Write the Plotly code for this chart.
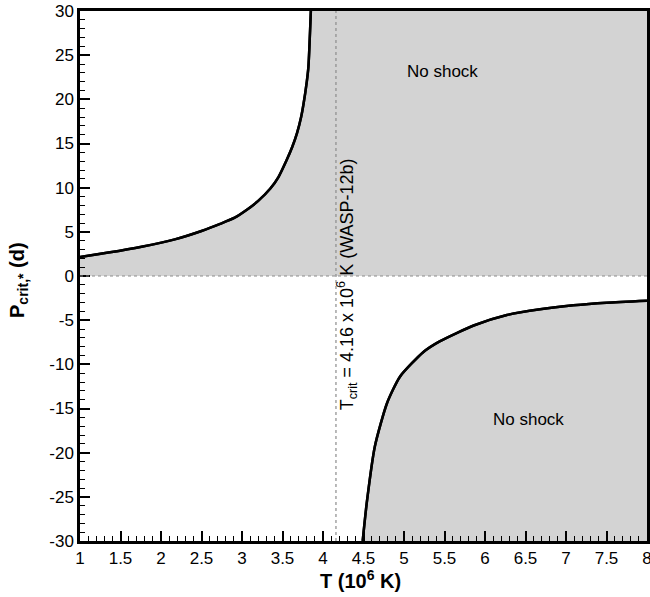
import plotly.graph_objects as go

# --- data ---
T_upper = [1.00, 1.35, 1.76, 2.17, 2.50, 2.73, 2.91, 3.06, 3.20, 3.35, 3.45, 3.55, 3.62, 3.68, 3.73, 3.76, 3.80, 3.82, 3.85]
P_upper = [2.15, 2.65, 3.32, 4.15, 5.10, 5.90, 6.60, 7.50, 8.50, 9.90, 11.2, 13.1, 14.6, 16.2, 18.0, 19.5, 22.0, 23.7, 30.0]

T_lower = [4.49, 4.54, 4.64, 4.79, 4.95, 5.24, 5.44, 5.86, 6.27, 6.68, 7.09, 7.50, 8.00]
P_lower = [-30.0, -25.7, -19.3, -14.4, -11.4, -8.6, -7.4, -5.6, -4.42, -3.77, -3.32, -3.02, -2.80]

T_CRIT = 4.16
X_RANGE = [1, 8]
Y_RANGE = [-30, 30]
x_ticks = [1, 1.5, 2, 2.5, 3, 3.5, 4, 4.5, 5, 5.5, 6, 6.5, 7, 7.5, 8]
x_tick_labels = ["1", "1.5", "2", "2.5", "3", "3.5", "4", "4.5", "5", "5.5", "6", "6.5", "7", "7.5", "8"]
y_ticks = [-30, -25, -20, -15, -10, -5, 0, 5, 10, 15, 20, 25, 30]
y_tick_labels = [str(v) for v in y_ticks]

FILL = "#d3d3d3"
FONT = "Liberation Sans, Arial, Helvetica, sans-serif"
CURVE = dict(color="black", width=2.5, shape="spline", smoothing=0.6)

fig = go.Figure()

# upper "no shock" region: curve, then the plot edges, filled between them
fig.add_trace(go.Scatter(x=T_upper, y=P_upper, mode="lines", line=CURVE,
                         hoverinfo="skip", showlegend=False))
fig.add_trace(go.Scatter(x=[X_RANGE[0], X_RANGE[1], X_RANGE[1]], y=[0, 0, Y_RANGE[1]],
                         mode="lines", line=dict(width=0, color="rgba(0,0,0,0)"),
                         fill="tonexty", fillcolor=FILL, hoverinfo="skip", showlegend=False))
# lower "no shock" region
fig.add_trace(go.Scatter(x=T_lower, y=P_lower, mode="lines", line=CURVE,
                         hoverinfo="skip", showlegend=False))
fig.add_trace(go.Scatter(x=[T_lower[0], X_RANGE[1]], y=[Y_RANGE[0], Y_RANGE[0]],
                         mode="lines", line=dict(width=0, color="rgba(0,0,0,0)"),
                         fill="tonexty", fillcolor=FILL, hoverinfo="skip", showlegend=False))

# boundary curves on top
fig.add_trace(go.Scatter(x=T_upper, y=P_upper, mode="lines", line=CURVE, showlegend=False))
fig.add_trace(go.Scatter(x=T_lower, y=P_lower, mode="lines", line=CURVE, showlegend=False))

# reference dotted lines
fig.add_shape(type="line", x0=T_CRIT, x1=T_CRIT, y0=Y_RANGE[0], y1=Y_RANGE[1],
              xref="x", yref="y", line=dict(color="#8c8c8c", width=1.2, dash="dot"), layer="above")
fig.add_shape(type="line", x0=X_RANGE[0], x1=X_RANGE[1], y0=0, y1=0,
              xref="x", yref="y", line=dict(color="#8c8c8c", width=1.2, dash="dot"), layer="above")

fig.add_annotation(x=5.47, y=23.1, text="No shock", showarrow=False,
                   font=dict(size=17, color="black", family=FONT))
fig.add_annotation(x=6.54, y=-16.3, text="No shock", showarrow=False,
                   font=dict(size=17, color="black", family=FONT))
fig.add_annotation(x=4.30, y=-0.9, textangle=-90, showarrow=False,
                   text="T<sub>crit</sub> = 4.16 x 10<sup>6</sup> K (WASP-12b)",
                   font=dict(size=18, color="black", family=FONT))

# axis titles
fig.add_annotation(xref="paper", yref="paper", x=0.5, y=0, xanchor="center", yanchor="middle",
                   yshift=-38, xshift=-3, showarrow=False,
                   text="<b>T (10<sup>6</sup> K)</b>", font=dict(size=20, family=FONT, color="black"))
fig.add_annotation(xref="paper", yref="paper", x=0, y=0.5, xanchor="center", yanchor="middle",
                   xshift=-62, yshift=-4, textangle=-90, showarrow=False,
                   text="<b>P<sub>crit,*</sub> (d)</b>", font=dict(size=20, family=FONT, color="black"))

fig.update_layout(
    width=650, height=597,
    margin=dict(l=80, r=3, t=11, b=56, autoexpand=False),
    plot_bgcolor="white", paper_bgcolor="white",
    font=dict(family=FONT, size=17, color="black"),
    showlegend=False,
    xaxis=dict(
        range=X_RANGE, tickmode="array", tickvals=x_ticks, ticktext=x_tick_labels,
        ticks="inside", ticklen=10, tickwidth=2, tickcolor="black",
        minor=dict(dtick=0.1, ticks="inside", ticklen=5, tickwidth=1.2, tickcolor="black"),
        showline=True, linewidth=2.5, linecolor="black", mirror=True,
        showgrid=False, zeroline=False, automargin=False, ticklabeloverflow="allow",
        tickfont=dict(size=17, family=FONT),
    ),
    yaxis=dict(
        range=Y_RANGE, tickmode="array", tickvals=y_ticks, ticktext=y_tick_labels,
        ticks="inside", ticklen=10, tickwidth=2, tickcolor="black",
        minor=dict(dtick=1, ticks="inside", ticklen=5, tickwidth=1.2, tickcolor="black"),
        showline=True, linewidth=2.5, linecolor="black", mirror=True,
        showgrid=False, zeroline=False, automargin=False, ticklabeloverflow="allow",
        tickfont=dict(size=17, family=FONT),
    ),
)

fig.write_html("out.html", config={"displayModeBar": False},
               post_script="document.body.style.margin='0';document.body.style.overflow='hidden';")
